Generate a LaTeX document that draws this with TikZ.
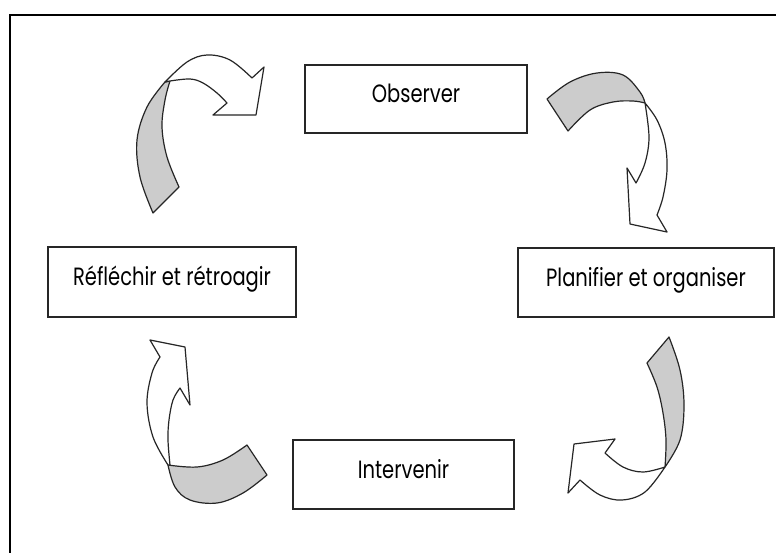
\documentclass[tikz,border=0pt]{standalone}
\usepackage{fontspec}
\setmainfont{Poppins}[FakeStretch=0.78]
\begin{document}
\begin{tikzpicture}[x=1pt,y=-1pt,
  box/.style={draw=black!85,line width=1.5pt,fill=white,inner sep=0pt,
    font=\fontsize{25}{28}\selectfont,text height=18pt,text depth=11pt},
  backside/.style={draw=black!85,line width=1.2pt,fill=black!20,line join=round},
  frontside/.style={draw=black!85,line width=1.2pt,fill=white,line join=round},
  sm/.style={smooth,tension=0.6}]
\useasboundingbox (0,0) rectangle (776,552);
\clip (0,0) rectangle (776,552);
\fill[white] (0,0) rectangle (776,552);
\draw[line width=2.2pt,black] (10,15) rectangle (800,580);

\node[box,minimum width=222pt,minimum height=68pt] (obs) at (416,99) {Observer};
\node[box,minimum width=248pt,minimum height=70pt] (ref) at (172,282) {Réfléchir et rétroagir};
\node[box,minimum width=256pt,minimum height=69pt] (pla) at (646,282.5) {Planifier et organiser};
\node[box,minimum width=221pt,minimum height=69pt] (int) at (403.5,474.5) {Intervenir};

% top-left curved arrow
\draw[backside] (165,82) -- plot[sm] coordinates {(165,82) (147,107) (137,140) (140,177) (153,213)}
  -- (179,187) -- plot[sm] coordinates {(179,187) (167,157) (162,127) (165,100) (170,81)} -- cycle;
\draw[frontside] (165,82) -- plot[sm] coordinates {(165,82) (187,62) (207,55) (230,60) (252,78)}
  -- (264,67) -- (256,115) -- (213,115) -- (227,103)
  -- plot[sm] coordinates {(227,103) (217,93) (203,83) (190,79) (170,81)} -- cycle;

% top-right curved arrow
\draw[backside] (547,99) -- plot[sm] coordinates {(547,99) (570,82) (597,73) (623,75) (640,92) (645,103)}
  -- plot[sm] coordinates {(645,103) (633,101) (613,102) (590,110) (568,131)} -- cycle;
\draw[frontside] (645,103) -- plot[sm] coordinates {(645,103) (657,120) (665,143) (667,170) (663,197) (657,215)}
  -- (667,232) -- (630,224) -- (627,168) -- (636,183)
  -- plot[sm] coordinates {(636,183) (645,163) (649,137) (645,103)} -- cycle;

% bottom-right curved arrow
\draw[backside] (647,363) -- (669,337)
  -- plot[sm] coordinates {(669,337) (680,370) (684,405) (680,440) (665,467)}
  -- plot[sm] coordinates {(665,467) (666,440) (663,413) (657,387) (647,363)} -- cycle;
\draw[frontside] (665,467) -- plot[sm] coordinates {(665,467) (643,472) (623,467) (605,453)}
  -- (615,439) -- (574,444) -- (568,493) -- (580,480)
  -- plot[sm] coordinates {(580,480) (600,495) (622,500) (645,492) (665,467)} -- cycle;

% bottom-left curved arrow
\draw[backside] (247,445) -- (267,475)
  -- plot[sm] coordinates {(267,475) (243,493) (217,503) (190,500) (175,487) (168,465)}
  -- plot[sm] coordinates {(168,465) (197,467) (223,460) (247,445)} -- cycle;
\draw[frontside] (168,465) -- plot[sm] coordinates {(168,465) (153,437) (147,403) (152,373) (160,357)}
  -- (150,340) -- (185,347) -- (190,405) -- (180,388)
  -- plot[sm] coordinates {(180,388) (173,400) (169,420) (168,440) (170,465)} -- cycle;
\end{tikzpicture}
\end{document}
